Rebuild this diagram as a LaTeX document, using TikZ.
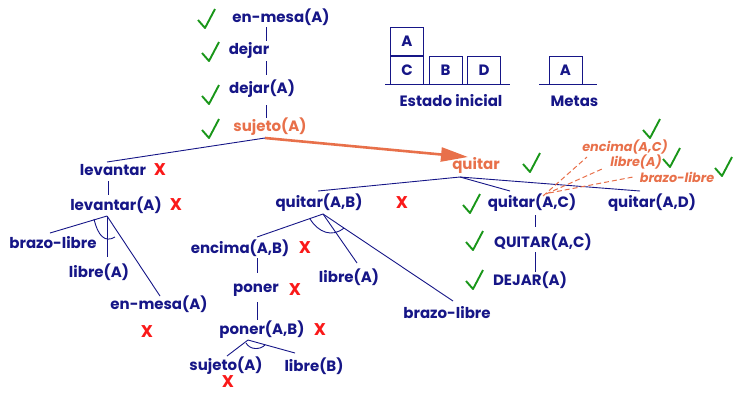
\documentclass[tikz,border=0pt]{standalone}
\usepackage{fontspec}
\setmainfont{Poppins}
\usetikzlibrary{arrows.meta}
\definecolor{navy}{RGB}{22,22,135}
\definecolor{orng}{RGB}{232,112,74}
\definecolor{grn}{RGB}{25,150,25}
\definecolor{redx}{RGB}{250,25,25}
\tikzset{
  lbl/.style={text=navy, font=\fontsize{15}{16}\selectfont\bfseries, inner sep=0pt},
  olbl/.style={text=orng, font=\fontsize{15}{16}\selectfont\bfseries, inner sep=0pt},
  ilbl/.style={text=orng, font=\fontsize{12.8}{13}\selectfont\bfseries\itshape, inner sep=0pt},
  xmark/.style={text=redx, font=\fontsize{17}{17}\selectfont\bfseries, inner sep=0pt},
  blk/.style={draw=navy, line width=0.9pt, minimum width=33pt, minimum height=28pt, inner sep=0pt, text=navy, font=\fontsize{15}{16}\selectfont\bfseries},
  br/.style={navy, line width=0.9pt},
  okmark/.pic={\draw[grn, line width=1.9pt, line join=round] (-7,-8) -- (0,0) -- (10,-19);}
}
\begin{document}
\begin{tikzpicture}[x=1pt, y=-1pt]
\useasboundingbox (0,0) rectangle (735,392);

% main vertical chain
\node[lbl] (enmesa) at (281,17) {en-mesa(A)};
\node[lbl] (dejar) at (249,50) {dejar};
\node[lbl] (dejarA) at (262,89) {dejar(A)};
\node[olbl] (suj) at (270,127) {sujeto(A)};
\coordinate (v1a) at (266,27); \coordinate (v1b) at (266,41);
\coordinate (v2a) at (266,61); \coordinate (v2b) at (266,75);
\coordinate (v3a) at (266,105); \coordinate (v3b) at (266,118);
\draw[br] (v1a) -- (v1b);
\draw[br] (v2a) -- (v2b);
\draw[br] (v3a) -- (v3b);
\pic at (205,28) {okmark};
\pic at (209,61) {okmark};
\pic at (209,104) {okmark};
\pic at (209,138) {okmark};

% blocks
\node[blk] (bA) at (407,41.5) {A};
\node[blk] (bC) at (407,70) {C};
\node[blk] (bB) at (445.5,70) {B};
\node[blk] (bD) at (484,70) {D};
\node[blk] (mA) at (565.5,70) {A};
\coordinate (g1a) at (385,84); \coordinate (g1b) at (510,84);
\coordinate (g2a) at (539,84); \coordinate (g2b) at (597,84);
\draw[navy, line width=0.9pt] (g1a) -- (g1b);
\draw[navy, line width=0.9pt] (g2a) -- (g2b);
\node[lbl] (estado) at (451,101) {Estado inicial};
\node[lbl] (metas) at (574.5,101) {Metas};

% sujeto branches
\coordinate (sp) at (265,138);
\coordinate (qtip) at (468,157);
\draw[orng, line width=2.6pt, -{Triangle[length=27pt,width=14pt]}] (sp) -- (qtip);
\node[lbl] (lev) at (113,170) {levantar};
\node[xmark] (x1) at (160,170) {X};
\coordinate (levtop) at (107,162);
\draw[br] (sp) -- (levtop);
\node[lbl] (levA) at (116,205) {levantar(A)};
\node[xmark] (x2) at (176,205) {X};
\coordinate (l1a) at (108,181); \coordinate (l1b) at (108,195);
\draw[br] (l1a) -- (l1b);
\coordinate (lr) at (107,216);
\node[lbl] (brz1) at (53,243) {brazo-libre};
\node[lbl] (libA1) at (99,272) {libre(A)};
\node[lbl] (enm2) at (159,304) {en-mesa(A)};
\node[xmark] (x3) at (147,332) {X};
\coordinate (lb1) at (50,233); \coordinate (lb2) at (107,257); \coordinate (lb3) at (160,296);
\draw[br] (lr) -- (lb1);
\draw[br] (lr) -- (lb2);
\draw[br] (lr) -- (lb3);
\draw[br] (94,219) .. controls (98,236) and (105,243) .. (115,237);

% quitar
\node[olbl] (quitar) at (476,165) {quitar};
\pic at (530,172) {okmark};
\coordinate (qr) at (460,177);
\node[lbl] (qAB) at (319,203) {quitar(A,B)};
\node[xmark] (x4) at (402,203) {X};
\node[lbl] (qAC) at (532,203) {quitar(A,C)};
\pic at (470,213) {okmark};
\node[lbl] (qAD) at (652,203) {quitar(A,D)};
\coordinate (qb1) at (318,191); \coordinate (qb2) at (510,191); \coordinate (qb3) at (640,191);
\draw[br] (qr) -- (qb1);
\draw[br] (qr) -- (qb2);
\draw[br] (qr) -- (qb3);

% quitar(A,C) chain
\node[lbl] (QAC) at (543,242) {QUITAR(A,C)};
\node[lbl] (DEJ) at (530,280) {DEJAR(A)};
\pic at (473,250) {okmark};
\pic at (473,289) {okmark};
\coordinate (c1a) at (535,215); \coordinate (c1b) at (535,227);
\coordinate (c2a) at (535,252); \coordinate (c2b) at (535,272);
\draw[br] (c1a) -- (c1b);
\draw[br] (c2a) -- (c2b);

% orange preconditions
\node[ilbl] (oenc) at (625,147) {encima(A,C)};
\node[ilbl] (olib) at (636,162) {libre(A)};
\node[ilbl] (obrz) at (677,177) {brazo-libre};
\pic at (650,138) {okmark};
\pic at (670,167) {okmark};
\pic at (722,176) {okmark};
\coordinate (d1) at (543,196); \coordinate (d2) at (546,194); \coordinate (d3) at (549,193);
\coordinate (e1) at (587,157); \coordinate (e2) at (602,169); \coordinate (e3) at (633,177);
\draw[orng, line width=1pt, dash pattern=on 5pt off 3pt] (d1) -- (e1);
\draw[orng, line width=1pt, dash pattern=on 5pt off 3pt] (d2) -- (e2);
\draw[orng, line width=1pt, dash pattern=on 5pt off 3pt] (d3) -- (e3);

% quitar(A,B) subtree
\coordinate (ar) at (323,214);
\node[lbl] (encAB) at (240,248) {encima(A,B)};
\node[xmark] (x5) at (305,248) {X};
\node[lbl] (libA2) at (349,277) {libre(A)};
\node[lbl] (brz2) at (447,313) {brazo-libre};
\coordinate (ab1) at (257,237); \coordinate (ab2) at (357,263); \coordinate (ab3) at (453,301);
\draw[br] (ar) -- (ab1);
\draw[br] (ar) -- (ab2);
\draw[br] (ar) -- (ab3);
\draw[br] (310,219) .. controls (318,232) and (332,238) .. (344,228);

\node[lbl] (poner) at (256,290) {poner};
\node[xmark] (x6) at (295,290) {X};
\node[lbl] (ponAB) at (262,330) {poner(A,B)};
\node[xmark] (x7) at (320,330) {X};
\coordinate (p1a) at (257,258); \coordinate (p1b) at (257,273);
\coordinate (p2a) at (257,302); \coordinate (p2b) at (257,320);
\draw[br] (p1a) -- (p1b);
\draw[br] (p2a) -- (p2b);
\coordinate (pr) at (248,340);
\node[lbl] (sujA) at (226,366) {sujeto(A)};
\node[lbl] (libB) at (314,366) {libre(B)};
\node[xmark] (x8) at (228,381.5) {X};
\coordinate (pb1) at (227,356); \coordinate (pb2) at (295,353);
\draw[br] (pr) -- (pb1);
\draw[br] (pr) -- (pb2);
\draw[br] (246,343) .. controls (250,350) and (260,350) .. (265,345);
\end{tikzpicture}
\end{document}
